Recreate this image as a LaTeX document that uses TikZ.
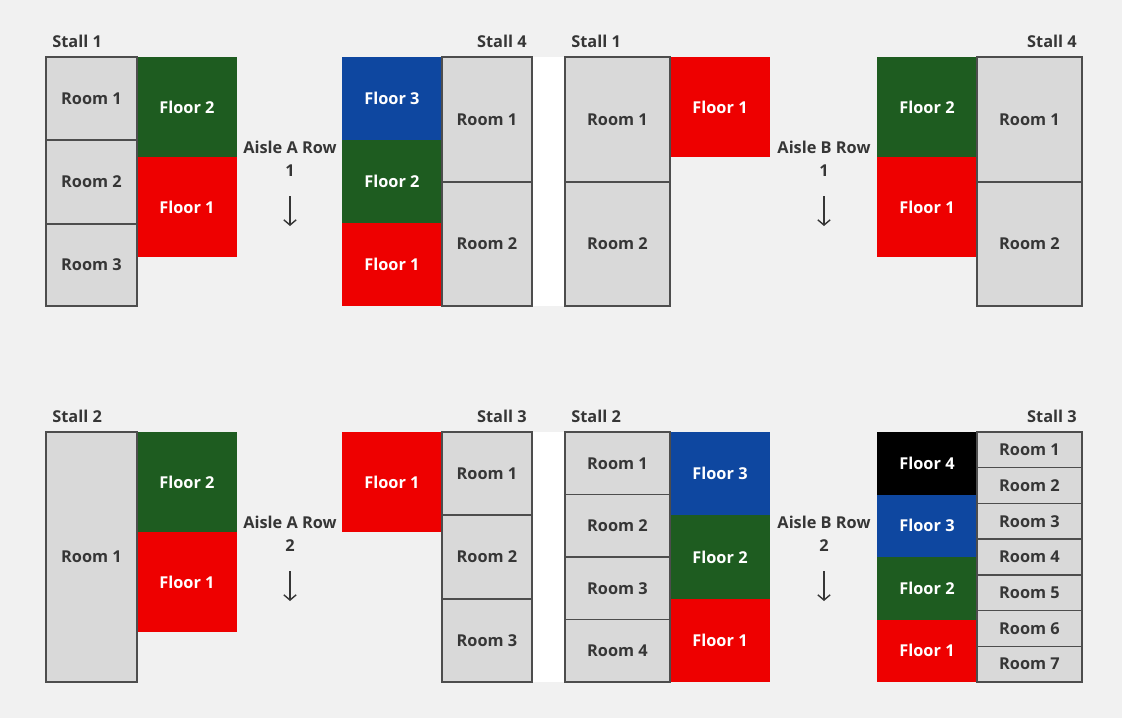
\documentclass[tikz,border=0pt]{standalone}
\usepackage{fontspec}
\setmainfont{Open Sans}
\usetikzlibrary{arrows.meta}
\definecolor{bgc}{HTML}{F1F1F1}
\definecolor{roomc}{HTML}{D9D9D9}
\definecolor{linec}{HTML}{4D4D4D}
\definecolor{txtc}{HTML}{363636}
\definecolor{flgreen}{HTML}{1E5C20}
\definecolor{flred}{HTML}{EE0000}
\definecolor{flblue}{HTML}{0E47A0}
\begin{document}
\begin{tikzpicture}[x=0.02cm,y=-0.02cm,
    font=\fontsize{9.3}{11}\selectfont\bfseries,
    room/.style={draw=linec,fill=roomc,line width=0.85pt},
    rlbl/.style={text=txtc,inner sep=0pt},
    flbl/.style={text=white,inner sep=0pt},
    stall/.style={text=txtc,inner sep=0pt},
    aisle/.style={text=txtc,align=center,inner sep=0pt,font=\fontsize{9.3}{13}\selectfont\bfseries},
    down/.style={-{Straight Barb[length=3pt,width=7pt]},line width=0.8pt,draw=txtc}]
  \useasboundingbox[fill=bgc] (0,0) rectangle (1122,718);
  % aisle gaps
  \fill[white] (533,57) rectangle (565,306);
  \fill[white] (533,432) rectangle (565,682);

  % Aisle A Row 1
  \node[stall,anchor=west] (a1s1) at (52,41) {Stall 1};
  \fill[flgreen] (137,57) rectangle node[flbl] (a1s1f2) {Floor 2} (237,157);
  \fill[flred] (137,157) rectangle node[flbl] (a1s1f1) {Floor 1} (237,257);
  \draw[room] (46,57) rectangle node[rlbl] (a1s1r1) {Room 1} (137,140);
  \draw[room] (46,140) rectangle node[rlbl] (a1s1r2) {Room 2} (137,224);
  \draw[room] (46,224) rectangle node[rlbl] (a1s1r3) {Room 3} (137,306);
  \node[aisle] (a1) at (290,159) {Aisle A Row\\1};
  \coordinate (a1top) at (290,196);
  \coordinate (a1bot) at (290,226);
  \draw[down] (a1top) -- (a1bot);
  \node[stall,anchor=east] (a1s4) at (527,41) {Stall 4};
  \fill[flblue] (342,57) rectangle node[flbl] (a1s4f3) {Floor 3} (442,140);
  \fill[flgreen] (342,140) rectangle node[flbl] (a1s4f2) {Floor 2} (442,223);
  \fill[flred] (342,223) rectangle node[flbl] (a1s4f1) {Floor 1} (442,306);
  \draw[room] (442,57) rectangle node[rlbl] (a1s4r1) {Room 1} (532,182);
  \draw[room] (442,182) rectangle node[rlbl] (a1s4r2) {Room 2} (532,306);

  % Aisle B Row 1
  \node[stall,anchor=west] (b1s1) at (571,41) {Stall 1};
  \fill[flred] (670,57) rectangle node[flbl] (b1s1f1) {Floor 1} (770,157);
  \draw[room] (565,57) rectangle node[rlbl] (b1s1r1) {Room 1} (670,182);
  \draw[room] (565,182) rectangle node[rlbl] (b1s1r2) {Room 2} (670,306);
  \node[aisle] (b1) at (824,159) {Aisle B Row\\1};
  \coordinate (b1top) at (824,196);
  \coordinate (b1bot) at (824,226);
  \draw[down] (b1top) -- (b1bot);
  \node[stall,anchor=east] (b1s4) at (1077,41) {Stall 4};
  \fill[flgreen] (877,57) rectangle node[flbl] (b1s4f2) {Floor 2} (977,157);
  \fill[flred] (877,157) rectangle node[flbl] (b1s4f1) {Floor 1} (977,257);
  \draw[room] (977,57) rectangle node[rlbl] (b1s4r1) {Room 1} (1082,182);
  \draw[room] (977,182) rectangle node[rlbl] (b1s4r2) {Room 2} (1082,306);

  % Aisle A Row 2
  \node[stall,anchor=west] (a2s2) at (52,416) {Stall 2};
  \fill[flgreen] (137,432) rectangle node[flbl] (a2s2f2) {Floor 2} (237,532);
  \fill[flred] (137,532) rectangle node[flbl] (a2s2f1) {Floor 1} (237,632);
  \draw[room] (46,432) rectangle node[rlbl] (a2s2r1) {Room 1} (137,682);
  \node[aisle] (a2) at (290,534) {Aisle A Row\\2};
  \coordinate (a2top) at (290,571);
  \coordinate (a2bot) at (290,601);
  \draw[down] (a2top) -- (a2bot);
  \node[stall,anchor=east] (a2s3) at (527,416) {Stall 3};
  \fill[flred] (342,432) rectangle node[flbl] (a2s3f1) {Floor 1} (442,532);
  \draw[room] (442,432) rectangle node[rlbl] (a2s3r1) {Room 1} (532,515);
  \draw[room] (442,515) rectangle node[rlbl] (a2s3r2) {Room 2} (532,599);
  \draw[room] (442,599) rectangle node[rlbl] (a2s3r3) {Room 3} (532,682);

  % Aisle B Row 2
  \node[stall,anchor=west] (b2s2) at (571,416) {Stall 2};
  \fill[flblue] (670,432) rectangle node[flbl] (b2s2f3) {Floor 3} (770,515);
  \fill[flgreen] (670,515) rectangle node[flbl] (b2s2f2) {Floor 2} (770,599);
  \fill[flred] (670,599) rectangle node[flbl] (b2s2f1) {Floor 1} (770,682);
  \draw[room] (565,432) rectangle node[rlbl] (b2s2r1) {Room 1} (670,494.5);
  \draw[room] (565,494.5) rectangle node[rlbl] (b2s2r2) {Room 2} (670,557);
  \draw[room] (565,557) rectangle node[rlbl] (b2s2r3) {Room 3} (670,619.5);
  \draw[room] (565,619.5) rectangle node[rlbl] (b2s2r4) {Room 4} (670,682);
  \node[aisle] (b2) at (824,534) {Aisle B Row\\2};
  \coordinate (b2top) at (824,571);
  \coordinate (b2bot) at (824,601);
  \draw[down] (b2top) -- (b2bot);
  \node[stall,anchor=east] (b2s3) at (1077,416) {Stall 3};
  \fill[black] (877,432) rectangle node[flbl] (b2s3f4) {Floor 4} (977,494.5);
  \fill[flblue] (877,494.5) rectangle node[flbl] (b2s3f3) {Floor 3} (977,557);
  \fill[flgreen] (877,557) rectangle node[flbl] (b2s3f2) {Floor 2} (977,619.5);
  \fill[flred] (877,619.5) rectangle node[flbl] (b2s3f1) {Floor 1} (977,682);
  \draw[room] (977,432) rectangle node[rlbl] (b2s3r1) {Room 1} (1082,467.7);
  \draw[room] (977,467.7) rectangle node[rlbl] (b2s3r2) {Room 2} (1082,503.4);
  \draw[room] (977,503.4) rectangle node[rlbl] (b2s3r3) {Room 3} (1082,539.1);
  \draw[room] (977,539.1) rectangle node[rlbl] (b2s3r4) {Room 4} (1082,574.9);
  \draw[room] (977,574.9) rectangle node[rlbl] (b2s3r5) {Room 5} (1082,610.6);
  \draw[room] (977,610.6) rectangle node[rlbl] (b2s3r6) {Room 6} (1082,646.3);
  \draw[room] (977,646.3) rectangle node[rlbl] (b2s3r7) {Room 7} (1082,682);
\end{tikzpicture}
\end{document}
